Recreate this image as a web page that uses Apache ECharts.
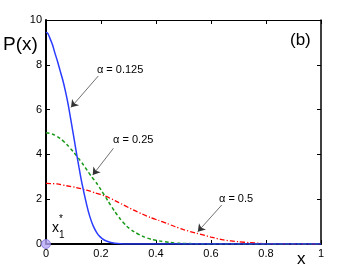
<!DOCTYPE html>
<html><head><meta charset="utf-8">
<script src="https://cdn.jsdelivr.net/npm/echarts@6/dist/echarts.min.js"></script>
<style>html,body{margin:0;padding:0;background:#fff}#c{width:354px;height:275px}</style>
</head><body><div id="c"></div>
<script>
// Data
const blueX = [0, 0.007, 0.0145, 0.024, 0.033, 0.042, 0.051, 0.061, 0.071, 0.081, 0.093, 0.102, 0.111, 0.12, 0.13, 0.148, 0.16, 0.172, 0.185, 0.196, 0.21, 0.227, 0.245, 0.26, 0.28, 0.3, 0.4, 1.0];
const blueY = [9.46, 9.39, 9.18, 8.88, 8.5, 8.15, 7.75, 7.32, 6.8, 6.2, 5.35, 4.7, 4.05, 3.42, 2.75, 1.75, 1.2, 0.8, 0.5, 0.33, 0.19, 0.1, 0.04, 0.02, 0.005, 0, 0, 0];
const greenX = [0, 0.025, 0.051, 0.075, 0.099, 0.12, 0.135, 0.15, 0.166, 0.185, 0.2, 0.225, 0.25, 0.27, 0.293, 0.32, 0.354, 0.385, 0.415, 0.45, 0.487, 0.55, 0.6, 1.0];
const greenY = [4.97, 4.9, 4.72, 4.45, 4.12, 3.8, 3.55, 3.28, 3.0, 2.7, 2.42, 1.93, 1.45, 1.12, 0.8, 0.55, 0.33, 0.2, 0.13, 0.07, 0.03, 0.01, 0, 0];
const redX = [0, 0.04, 0.075, 0.11, 0.148, 0.18, 0.215, 0.26, 0.317, 0.35, 0.38, 0.41, 0.439, 0.47, 0.5, 0.548, 0.6, 0.645, 0.7, 0.742, 0.8, 0.9, 1.0];
const redY = [2.71, 2.68, 2.6, 2.52, 2.4, 2.28, 2.14, 1.88, 1.52, 1.34, 1.18, 1.05, 0.92, 0.77, 0.64, 0.48, 0.31, 0.18, 0.1, 0.06, 0.02, 0, 0];
const xTicks = [0, 0.2, 0.4, 0.6, 0.8, 1];
const yTicks = [0, 2, 4, 6, 8, 10];
const labels = ['α = 0.125', 'α = 0.25', 'α = 0.5'];
const labelPos = [[0.185, 7.77], [0.244, 4.64], [0.629, 2.0]];
const arrows = [[[0.19, 7.5], [0.091, 6.1]], [[0.245, 4.27], [0.17, 3.08]], [[0.639, 1.74], [0.552, 0.55]]];
const markerPt = [0, 0];

const zip = (a, b) => a.map((v, i) => [v, b[i]]);
const FONT = 'Liberation Sans';
const chart = echarts.init(document.getElementById('c'), null, {renderer: 'canvas'});
const axisCommon = {
  type: 'value', min: 0,
  splitLine: {show: false},
  axisTick: {show: true, inside: true, length: 4, lineStyle: {color: '#000', width: 1}},
};
chart.setOption({
  animation: false,
  grid: {left: 46, top: 20, right: 33, bottom: 31, containLabel: false},
  xAxis: [
    Object.assign({}, axisCommon, {max: 1, interval: 0.2, position: 'bottom',
      axisLine: {show: true, onZero: false, lineStyle: {color: '#000', width: 2}},
      axisLabel: {color: '#000', fontFamily: FONT, fontSize: 11, margin: 4,
        formatter: v => xTicks.includes(+v.toFixed(1)) ? String(+v.toFixed(1)) : ''}}),
    Object.assign({}, axisCommon, {max: 1, interval: 0.2, position: 'top',
      axisLine: {show: true, onZero: false, lineStyle: {color: '#000', width: 1.2}},
      axisLabel: {show: false}})
  ],
  yAxis: [
    Object.assign({}, axisCommon, {max: 10, interval: 2, position: 'left',
      axisLine: {show: true, onZero: false, lineStyle: {color: '#000', width: 2}},
      axisLabel: {color: '#000', fontFamily: FONT, fontSize: 11, margin: 4,
        formatter: v => yTicks.includes(v) ? String(v) : ''}}),
    Object.assign({}, axisCommon, {max: 10, interval: 2, position: 'right',
      axisLine: {show: true, onZero: false, lineStyle: {color: '#000', width: 1.5}},
      axisLabel: {show: false}})
  ],
  series: [
    {type: 'line', data: zip(redX, redY), showSymbol: false, smooth: 0.25,
      lineStyle: {color: '#ff0000', width: 1.3, type: [5, 2, 1.2, 2]}, z: 3},
    {type: 'line', data: zip(greenX, greenY), showSymbol: false, smooth: 0.25,
      lineStyle: {color: '#1a9a1a', width: 1.5, type: [3.5, 2.5]}, z: 4},
    {type: 'line', data: zip(blueX, blueY), showSymbol: false, smooth: 0.25,
      lineStyle: {color: '#2a3cff', width: 1.5}, z: 5,
      markLine: {
        silent: true, symbol: ['none', 'arrow'], symbolSize: 7,
        label: {show: false},
        lineStyle: {color: '#333', width: 0.7, type: 'solid'},
        itemStyle: {color: '#111'},
        data: arrows.map(a => [{coord: a[0]}, {coord: a[1]}])
      }},
    {type: 'scatter', data: [markerPt], symbolSize: 9, z: 10, clip: false,
      itemStyle: {color: '#b7a9f5', borderColor: '#8070d8', borderWidth: 1}}
  ]
});

const g = [];
labels.forEach((t, i) => {
  const p = chart.convertToPixel({gridIndex: 0}, labelPos[i]);
  g.push({type: 'text', x: p[0], y: p[1], style: {text: t, fill: '#000', font: '11px "Liberation Sans"', textVerticalAlign: 'middle'}});
});
g.push({type: 'text', left: 290, top: 32, style: {text: '(b)', fill: '#000', font: '17px "Liberation Sans"'}});
g.push({type: 'text', left: 3, top: 35, style: {text: 'P(x)', fill: '#000', font: '19px "Liberation Sans"'}});
g.push({type: 'text', left: 297, top: 251, style: {text: 'x', fill: '#000', font: '17px "Liberation Sans"'}});
g.push({type: 'text', left: 52, top: 221, style: {text: 'x', fill: '#000', font: '14px "Liberation Sans"'}});
g.push({type: 'text', left: 59, top: 230, style: {text: '1', fill: '#000', font: '10px "Liberation Sans"'}});
g.push({type: 'text', left: 59, top: 214, style: {text: '*', fill: '#000', font: '10px "Liberation Sans"'}});
chart.setOption({graphic: g});
</script></body></html>
